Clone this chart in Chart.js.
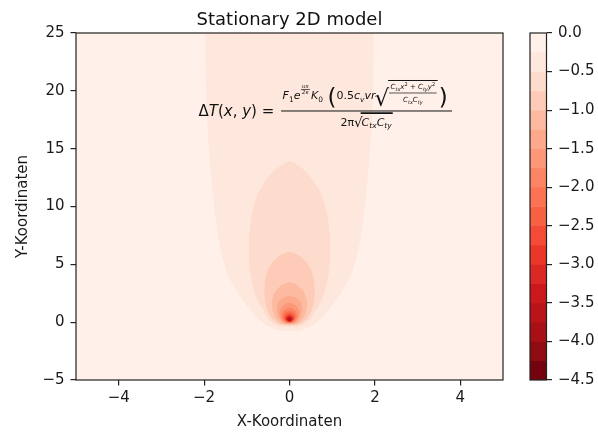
<!DOCTYPE html>
<html>
<head>
<meta charset="utf-8">
<script src="https://cdn.jsdelivr.net/npm/chart.js@4.4.1/dist/chart.umd.min.js"></script>
<style>
  html, body { margin: 0; padding: 0; background: #fff; }
  #wrap { position: relative; width: 598px; height: 432px; }
  #main { position: absolute; left: 0; top: 0; }
  #bar { position: absolute; left: 500px; top: 0; }
</style>
</head>
<body>
<div id="wrap">
  <canvas id="main" width="598" height="432"></canvas>
  <canvas id="bar" width="98" height="432"></canvas>
</div>
<script>
// ---- axis ticks ----
const xTicks = [-4, -2, 0, 2, 4];
const yTicks = [-5, 0, 5, 10, 15, 20, 25];
const barTicks = [0, -0.5, -1, -1.5, -2, -2.5, -3, -3.5, -4, -4.5];

// ---- contour levels of ΔT (band edges of the filled plot) ----
const levels = [0, -0.25, -0.5, -0.75, -1, -1.25, -1.5, -1.75, -2, -2.25,
                -2.5, -2.75, -3, -3.25, -3.5, -3.75, -4, -4.25, -4.5];

// ---- iso-lines, right half (x >= 0), listed from the lowest point upward ----
const iso025X = [0, 0.25, 0.42, 0.56, 0.68, 0.80, 0.90, 1.10, 1.27, 1.42, 1.55, 1.66, 1.75, 1.83, 1.90, 1.94, 1.96, 1.97];
const iso025Y = [-0.72, -0.65, -0.45, -0.2, 0.17, 0.6, 1.04, 2.0, 3.0, 4.0, 5.5, 7.5, 10, 13, 16.5, 20, 25, 27];

const iso050X = [0, 0.22, 0.38, 0.50, 0.59, 0.75, 0.87, 0.93, 0.94, 0.92, 0.86, 0.76, 0.62, 0.40, 0.20, 0];
const iso050Y = [-0.35, -0.28, -0.05, 0.4, 1.0, 2.0, 3.5, 5.0, 6.5, 8.0, 9.5, 10.8, 11.8, 12.9, 13.5, 13.85];

const iso075X = [0, 0.20, 0.33, 0.43, 0.52, 0.57, 0.57, 0.53, 0.44, 0.30, 0.15, 0];
const iso075Y = [-0.22, -0.15, 0.1, 0.5, 1.2, 2.2, 3.2, 4.1, 4.9, 5.5, 5.85, 6.03];

const iso100X = [0, 0.17, 0.28, 0.35, 0.39, 0.39, 0.34, 0.25, 0.13, 0];
const iso100Y = [-0.15, -0.08, 0.2, 0.65, 1.2, 1.9, 2.5, 2.95, 3.25, 3.4];

const iso125X = [0, 0.14, 0.22, 0.27, 0.28, 0.24, 0.15, 0];
const iso125Y = [-0.1, -0.03, 0.3, 0.8, 1.3, 1.75, 2.05, 2.2];

const iso150X = [0, 0.12, 0.19, 0.22, 0.19, 0.11, 0];
const iso150Y = [-0.06, 0.02, 0.35, 0.8, 1.2, 1.48, 1.6];

const iso175X = [0, 0.10, 0.16, 0.17, 0.13, 0.07, 0];
const iso175Y = [-0.03, 0.05, 0.35, 0.7, 0.98, 1.13, 1.2];

const iso200X = [0, 0.08, 0.13, 0.13, 0.08, 0];
const iso200Y = [0.0, 0.08, 0.35, 0.65, 0.87, 0.95];

const iso225X = [0, 0.07, 0.11, 0.10, 0.06, 0];
const iso225Y = [0.03, 0.10, 0.33, 0.57, 0.72, 0.78];

const iso250X = [0, 0.06, 0.09, 0.08, 0];
const iso250Y = [0.06, 0.12, 0.32, 0.52, 0.65];

const iso275X = [0, 0.05, 0.075, 0.06, 0];
const iso275Y = [0.08, 0.14, 0.30, 0.46, 0.55];

const iso300X = [0, 0.045, 0.06, 0.045, 0];
const iso300Y = [0.10, 0.16, 0.29, 0.41, 0.47];

const iso325X = [0, 0.035, 0.045, 0.03, 0];
const iso325Y = [0.13, 0.18, 0.28, 0.37, 0.41];

const iso350X = [0, 0.025, 0.03, 0];
const iso350Y = [0.16, 0.20, 0.30, 0.35];

const isoLines = [
  [-0.25, iso025X, iso025Y], [-0.5, iso050X, iso050Y], [-0.75, iso075X, iso075Y],
  [-1.0, iso100X, iso100Y], [-1.25, iso125X, iso125Y], [-1.5, iso150X, iso150Y],
  [-1.75, iso175X, iso175Y], [-2.0, iso200X, iso200Y], [-2.25, iso225X, iso225Y],
  [-2.5, iso250X, iso250Y], [-2.75, iso275X, iso275Y], [-3.0, iso300X, iso300Y],
  [-3.25, iso325X, iso325Y], [-3.5, iso350X, iso350Y]
];

// ---- "Reds" colour ramp, reversed so that low values are dark ----
const redsRamp = [[255,245,240],[254,224,210],[252,187,161],[252,146,114],[251,106,74],
                  [239,59,44],[203,24,29],[165,15,21],[103,0,13]];
function reds(t) {
  const p = Math.max(0, Math.min(1, t)) * (redsRamp.length - 1);
  const i = Math.min(redsRamp.length - 2, Math.floor(p));
  const f = p - i, a = redsRamp[i], b = redsRamp[i + 1];
  const c = a.map((v, k) => Math.round(v + (b[k] - v) * f));
  return `rgb(${c[0]},${c[1]},${c[2]})`;
}
const nBands = levels.length - 1;
// band k spans [levels[k+1], levels[k]]
const bandColors = Array.from({length: nBands}, (_, k) => reds((k + 0.5) / nBands));

const FONT = '"DejaVu Sans", "Liberation Sans", sans-serif';
const INK = '#1a1a1a';
const minus = v => String(v).replace('-', '\u2212');

// closed outline of an iso-line: right half upward, then mirrored half downward
function ring(xs, ys) {
  const pts = xs.map((v, i) => ({x: v, y: ys[i]}));
  const n = xs.length;
  for (let i = n - 1; i >= 0; i--) {
    if (i === n - 1 && xs[i] === 0) continue;
    pts.push({x: xs[i] === 0 ? 0 : -xs[i], y: ys[i]});
  }
  return pts;
}

const contourSets = isoLines.map(([lev, xs, ys]) => {
  const band = levels.indexOf(lev);
  const col = bandColors[band];
  return {
    data: ring(xs, ys),
    fill: 'shape',
    backgroundColor: col,
    borderColor: col,
    borderWidth: 1,
    pointRadius: 0,
    tension: 0.4,
    order: -band
  };
});

// background = outermost band, plus the frame round the axes
const axesBox = {
  id: 'axesBox',
  beforeDatasetsDraw(chart) {
    const {ctx, chartArea: a} = chart;
    ctx.save();
    ctx.fillStyle = bandColors[0];
    ctx.fillRect(a.left, a.top, a.right - a.left, a.bottom - a.top);
    ctx.restore();
  },
  afterDraw(chart) {
    const {ctx, chartArea: a} = chart;
    ctx.save();
    ctx.strokeStyle = '#222';
    ctx.lineWidth = 1.2;
    ctx.strokeRect(a.left, a.top, a.right - a.left, a.bottom - a.top);
    ctx.restore();
  }
};

// text run helper: parts = [text, size, italic, dy]
function run(ctx, parts, x, base, draw = true) {
  let w = 0;
  for (const [t, s, it, dy] of parts) {
    ctx.font = (it ? 'italic ' : '') + s + 'px ' + FONT;
    if (draw) ctx.fillText(t, x + w, base + (dy || 0));
    w += ctx.measureText(t).width;
  }
  return w;
}

// the model equation written inside the axes
const equation = {
  id: 'equation',
  afterDatasetsDraw(chart) {
    const {ctx, scales: {x, y}} = chart;
    const x0 = x.getPixelForValue(-2.13);
    const barY = y.getPixelForValue(18.3);
    ctx.save();
    ctx.fillStyle = '#111';
    ctx.strokeStyle = '#111';
    ctx.textAlign = 'left';
    ctx.textBaseline = 'alphabetic';

    // left-hand side
    const lhs = [['Δ', 15, 0], ['T', 15, 1], ['(', 15, 0], ['x', 15, 1], [', ', 15, 0],
                 ['y', 15, 1], [')', 15, 0], [' = ', 15, 0]];
    let cx = x0 + run(ctx, lhs, x0, barY + 5.5);
    const fx0 = cx + 2, fx1 = fx0 + 171;
    ctx.lineWidth = 1;
    ctx.beginPath(); ctx.moveTo(fx0, barY + 0.5); ctx.lineTo(fx1, barY + 0.5); ctx.stroke();

    // numerator
    const nb = barY - 11;
    let n = fx0 + 1.5;
    n += run(ctx, [['F', 11, 1], ['1', 7.5, 0, 2.5], ['e', 11, 1]], n, nb);
    // exponent fraction u x / 2κ
    const sx = n + 5;
    ctx.textAlign = 'center';
    ctx.font = 'italic 5.5px ' + FONT; ctx.fillText('ux', sx, nb - 11.5);
    ctx.font = 'italic 5.5px ' + FONT; ctx.fillText('2κ', sx, nb - 5.5);
    ctx.textAlign = 'left';
    ctx.lineWidth = 0.7;
    ctx.beginPath(); ctx.moveTo(sx - 4.5, nb - 10); ctx.lineTo(sx + 4.5, nb - 10); ctx.stroke();
    n = sx + 5.5;
    n += run(ctx, [['K', 11, 1], ['0', 7.5, 0, 2.5]], n, nb);
    n += 4.5;
    n += run(ctx, [['(', 23, 0]], n, nb + 5.5);
    n += run(ctx, [['0.5', 11, 0], ['c', 11, 1], ['v', 7.5, 1, 2.5], ['vr', 11, 1]], n, nb);
    n += run(ctx, [['√', 23, 0]], n - 1, nb + 6.5) - 1;
    const innerNum = [['C', 7, 1], ['tx', 5, 1, 1.5], ['x', 7, 1], ['2', 5, 0, -3], [' + ', 7, 0],
                      ['C', 7, 1], ['ty', 5, 1, 1.5], ['y', 7, 1], ['2', 5, 0, -3]];
    const innerDen = [['C', 7, 1], ['tx', 5, 1, 1.5], ['C', 7, 1], ['ty', 5, 1, 1.5]];
    const wn = run(ctx, innerNum, 0, 0, false);
    const wd = run(ctx, innerDen, 0, 0, false);
    const iw = Math.max(wn, wd) + 3;
    run(ctx, innerNum, n + (iw - wn) / 2, nb - 10);
    run(ctx, innerDen, n + (iw - wd) / 2, nb + 3);
    ctx.lineWidth = 0.7;
    ctx.beginPath(); ctx.moveTo(n, nb - 6.5); ctx.lineTo(n + iw, nb - 6.5); ctx.stroke();
    ctx.lineWidth = 1;
    ctx.beginPath(); ctx.moveTo(n - 1, nb - 19); ctx.lineTo(n + iw + 1, nb - 19); ctx.stroke();
    n += iw + 2;
    run(ctx, [[')', 23, 0]], n, nb + 5.5);

    // denominator
    const db = barY + 15.5;
    const den1 = [['2π', 11, 0]];
    const rad = [['√', 13.5, 0]];
    const den2 = [['C', 11, 1], ['tx', 7.5, 1, 2.5], ['C', 11, 1], ['ty', 7.5, 1, 2.5]];
    const w1 = run(ctx, den1, 0, 0, false), w2 = run(ctx, rad, 0, 0, false), w3 = run(ctx, den2, 0, 0, false);
    let d = (fx0 + fx1) / 2 - (w1 + w2 + w3) / 2;
    d += run(ctx, den1, d, db);
    d += run(ctx, rad, d, db + 1) - 1;
    ctx.lineWidth = 1.8;
    ctx.beginPath(); ctx.moveTo(d - 1, barY + 2.6); ctx.lineTo(d + w3 + 1, barY + 2.6); ctx.stroke();
    run(ctx, den2, d, db);
    ctx.restore();
  }
};

const tickFont = {family: FONT, size: 15};
const gridStyle = {drawOnChartArea: false, drawTicks: true, tickLength: 5.5, color: '#222', lineWidth: 1.2};

new Chart(document.getElementById('main'), {
  type: 'line',
  data: {datasets: contourSets},
  options: {
    responsive: false,
    animation: false,
    devicePixelRatio: 1,
    layout: {padding: {left: 0, right: 95, top: 0, bottom: 0}},
    plugins: {
      legend: {display: false},
      tooltip: {enabled: false},
      title: {
        display: true, text: 'Stationary 2D model', fullSize: false,
        color: '#111', font: {family: FONT, size: 18, weight: 'normal'},
        padding: {top: 9.5, bottom: 1.9}
      }
    },
    scales: {
      x: {
        type: 'linear', min: -5, max: 5,
        afterBuildTicks: s => { s.ticks = xTicks.map(v => ({value: v})); },
        afterFit: s => { s.height = 52; },
        ticks: {font: tickFont, color: INK, padding: 3.5, maxRotation: 0, autoSkip: false, callback: v => minus(v)},
        grid: gridStyle,
        border: {display: false},
        title: {display: true, text: 'X-Koordinaten', color: INK, font: tickFont, padding: {top: 0, bottom: 1}}
      },
      y: {
        type: 'linear', min: -5, max: 25,
        afterBuildTicks: s => { s.ticks = yTicks.map(v => ({value: v})); },
        afterFit: s => { s.width = 76; },
        ticks: {font: tickFont, color: INK, padding: 6, autoSkip: false, callback: v => minus(v)},
        grid: gridStyle,
        border: {display: false},
        title: {display: true, text: 'Y-Koordinaten', color: INK, font: tickFont, padding: {top: 14, bottom: 0}}
      }
    }
  },
  plugins: [axesBox, equation]
});

// ---- colour bar ----
const barSets = bandColors.map((col, k) => ({
  data: [[levels[k + 1], levels[k]]],
  backgroundColor: col,
  borderWidth: 0,
  barPercentage: 1,
  categoryPercentage: 1,
  grouped: false
}));

const barFrame = {
  id: 'barFrame',
  afterDraw(chart) {
    const {ctx, chartArea: a} = chart;
    ctx.save();
    ctx.strokeStyle = '#222';
    ctx.lineWidth = 1.2;
    ctx.strokeRect(a.left, a.top, a.right - a.left, a.bottom - a.top);
    ctx.restore();
  }
};

new Chart(document.getElementById('bar'), {
  type: 'bar',
  data: {labels: ['ΔT'], datasets: barSets},
  options: {
    responsive: false,
    animation: false,
    devicePixelRatio: 1,
    layout: {padding: {left: 30, right: 0, top: 33, bottom: 52}},
    plugins: {legend: {display: false}, tooltip: {enabled: false}},
    scales: {
      x: {display: false},
      y: {
        position: 'right', min: -4.5, max: 0,
        afterBuildTicks: s => { s.ticks = barTicks.map(v => ({value: v})); },
        afterFit: s => { s.width = 51.5; },
        ticks: {font: tickFont, color: INK, padding: 6, autoSkip: false, callback: v => minus(v.toFixed(1))},
        grid: gridStyle,
        border: {display: false}
      }
    }
  },
  plugins: [barFrame]
});
</script>
</body>
</html>
